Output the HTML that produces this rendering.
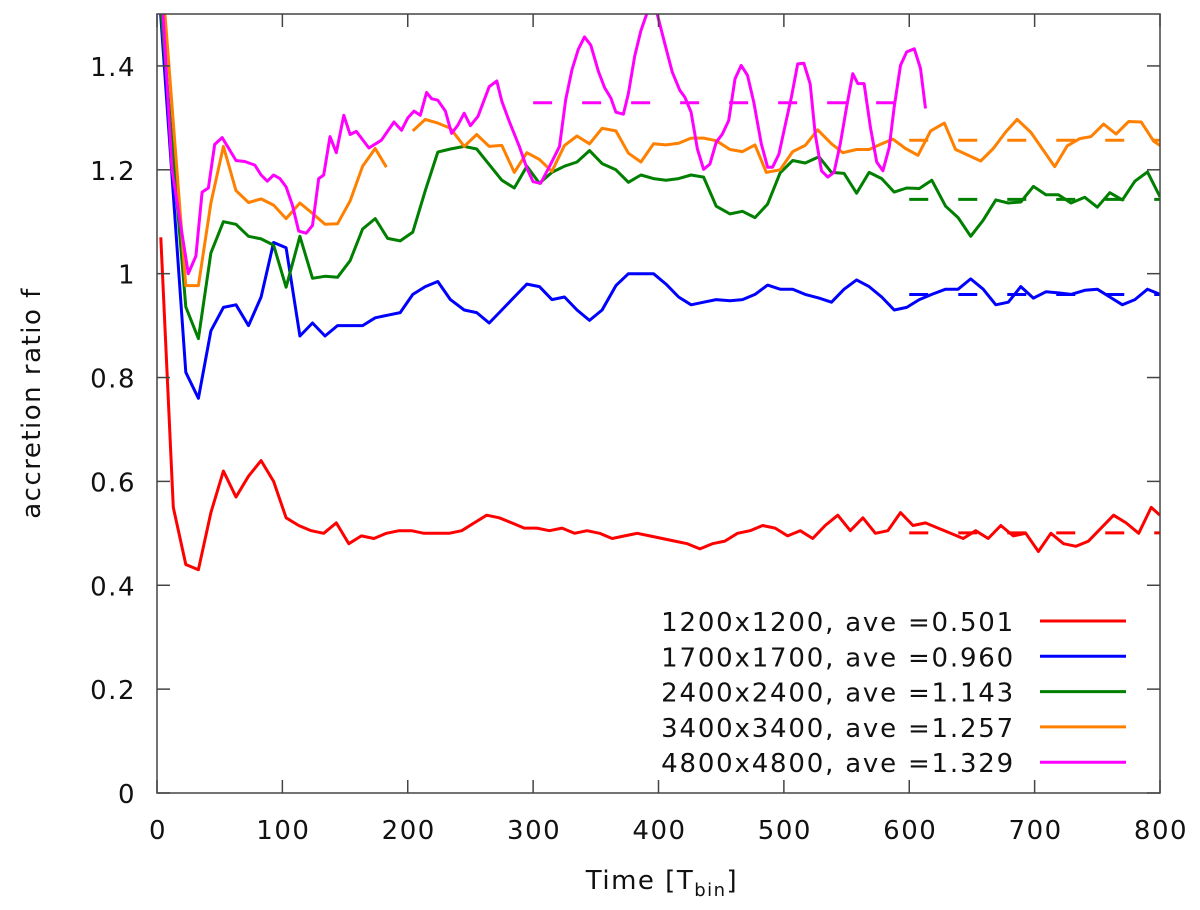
<!DOCTYPE html>
<html><head><meta charset="utf-8"><style>
html,body{margin:0;padding:0;background:#fff}
svg{display:block;font-family:"DejaVu Sans","Liberation Sans",sans-serif}
</style></head><body>
<svg id="chart" width="1200" height="910" viewBox="0 0 1200 910" xmlns="http://www.w3.org/2000/svg">
<defs><clipPath id="clip"><rect x="158" y="14" width="1002" height="778"/></clipPath></defs>
<g id="plot" clip-path="url(#clip)"></g>
<g id="axes"></g>
<g id="legend"></g>
</svg>
<script>
const xTicks=[0,100,200,300,400,500,600,700,800];
const yTicks=[0,0.2,0.4,0.6,0.8,1,1.2,1.4];
const yTickLabels=["0","0.2","0.4","0.6","0.8","1","1.2","1.4"];
const seriesNames=["1200x1200, ave =0.501","1700x1700, ave =0.960","2400x2400, ave =1.143","3400x3400, ave =1.257","4800x4800, ave =1.329"];
const seriesColors=["#ff0000","#0000ff","#007f00","#ff8000","#ff00ff"];
const averages=[0.501,0.960,1.143,1.257,1.329];
const avgStart=[600,600,600,600,300];
const avgEnd=[800,800,800,800,600];
const redT=[3,13,23,33,43,53,63,73,83,93,103,113,123,133,143,153,163,173,183,193,203,213,223,233,243,253,263,273,283,293,303,313,323,333,343,353,363,373,383,393,403,413,423,433,443,453,463,473,483,493,503,513,523,533,543,553,563,573,583,593,603,613,623,633,643,653,663,673,683,693,703,713,723,733,743,753,763,773,783,793,800];
const redV=[1.07,0.55,0.44,0.43,0.54,0.62,0.57,0.61,0.64,0.60,0.53,0.515,0.505,0.50,0.52,0.48,0.495,0.49,0.50,0.505,0.505,0.50,0.50,0.50,0.505,0.52,0.535,0.53,0.52,0.51,0.51,0.505,0.51,0.50,0.505,0.50,0.49,0.495,0.50,0.495,0.49,0.485,0.48,0.47,0.48,0.485,0.50,0.505,0.515,0.51,0.495,0.505,0.49,0.515,0.535,0.505,0.53,0.50,0.505,0.54,0.515,0.52,0.51,0.50,0.49,0.505,0.49,0.515,0.495,0.50,0.465,0.50,0.48,0.475,0.485,0.51,0.535,0.52,0.50,0.55,0.535];
const blueT=[0,23,33,43,53,63,73,83,93,103,114,124,134,144,154,164,174,184,194,204,214,224,234,245,255,265,275,285,295,305,315,325,335,345,355,366,376,396,406,416,426,436,446,457,467,477,487,497,507,517,528,538,548,558,568,578,588,598,608,618,629,639,649,659,669,679,689,699,709,719,729,740,750,760,770,780,790,800];
const blueV=[1.6,0.81,0.76,0.89,0.935,0.94,0.90,0.955,1.06,1.05,0.88,0.905,0.88,0.90,0.90,0.90,0.915,0.92,0.925,0.96,0.975,0.985,0.95,0.93,0.925,0.905,0.93,0.955,0.98,0.975,0.95,0.955,0.93,0.91,0.93,0.977,1.0,1.0,0.98,0.955,0.94,0.945,0.95,0.948,0.95,0.96,0.978,0.97,0.97,0.96,0.953,0.945,0.97,0.988,0.975,0.955,0.93,0.935,0.95,0.96,0.97,0.97,0.99,0.97,0.94,0.945,0.975,0.953,0.965,0.963,0.96,0.968,0.97,0.955,0.94,0.95,0.97,0.96];
const greenT=[0,23,33,43,53,63,73,83,93,103,114,124,134,144,154,164,174,184,194,204,214,224,234,245,255,265,275,285,295,305,315,325,335,345,355,366,376,386,396,406,416,426,436,446,457,467,477,487,497,507,517,528,538,548,558,568,578,588,598,608,618,629,639,649,659,669,679,689,699,709,719,729,740,750,760,770,780,790,800];
const greenV=[1.6,0.936,0.875,1.04,1.10,1.095,1.072,1.067,1.055,0.974,1.072,0.991,0.995,0.993,1.025,1.086,1.106,1.068,1.063,1.08,1.16,1.234,1.24,1.245,1.24,1.21,1.18,1.165,1.207,1.174,1.195,1.207,1.215,1.237,1.212,1.20,1.176,1.19,1.183,1.18,1.183,1.19,1.186,1.13,1.115,1.12,1.108,1.134,1.194,1.218,1.213,1.225,1.195,1.193,1.155,1.195,1.183,1.157,1.165,1.164,1.18,1.13,1.108,1.072,1.103,1.142,1.136,1.138,1.168,1.152,1.152,1.136,1.147,1.128,1.156,1.142,1.178,1.196,1.148];
const orangeT=[0,23,33,43,53,63,73,83,93,103,114,124,134,144,154,164,174,183,null,204,214,224,234,245,255,265,275,285,295,305,315,325,335,345,355,366,376,386,396,406,416,426,436,446,457,467,477,486,497,507,517,527,538,547,558,568,578,587,597,607,617,628,637,647,657,667,677,686,697,706,716,726,736,745,755,765,775,785,795,800];
const orangeV=[1.7,0.977,0.977,1.136,1.245,1.16,1.137,1.144,1.132,1.106,1.136,1.116,1.095,1.096,1.14,1.207,1.241,1.205,null,1.275,1.297,1.29,1.28,1.245,1.268,1.245,1.247,1.195,1.233,1.22,1.197,1.247,1.265,1.25,1.28,1.275,1.232,1.215,1.25,1.248,1.251,1.261,1.261,1.256,1.239,1.235,1.248,1.195,1.20,1.235,1.247,1.277,1.25,1.233,1.239,1.239,1.25,1.259,1.241,1.228,1.275,1.29,1.239,1.228,1.217,1.241,1.273,1.297,1.272,1.241,1.206,1.246,1.26,1.264,1.288,1.269,1.293,1.292,1.255,1.247];
const magentaT=[0,12,25,31,36,41,46,52,63,70,78,83,88,93,98,103,108,113,119,124,129,133,138,143,149,154,159,169,179,189,195,200,205,210,215,219,224,230,235,240,245,250,256,265,271,275,281,289,295,300,306,313,321,326,331,336,341,346,352,357,362,366,372,376,381,386,392,399,405,411,417,421,426,431,436,441,446,451,456,461,466,471,476,482,487,491,496,501,506,511,516,521,525,530,535,540,545,550,555,559,564,569,574,579,584,588,593,598,604,609,613];
const magentaV=[1.7,1.2,1.0,1.034,1.157,1.165,1.249,1.262,1.218,1.216,1.209,1.19,1.178,1.19,1.183,1.167,1.132,1.082,1.078,1.093,1.183,1.19,1.264,1.233,1.305,1.268,1.274,1.242,1.257,1.292,1.276,1.30,1.313,1.305,1.349,1.337,1.334,1.313,1.27,1.286,1.309,1.285,1.303,1.36,1.371,1.332,1.293,1.245,1.203,1.177,1.174,1.206,1.245,1.335,1.393,1.432,1.456,1.44,1.39,1.358,1.338,1.311,1.307,1.347,1.419,1.468,1.51,1.50,1.443,1.388,1.353,1.34,1.311,1.24,1.201,1.211,1.253,1.269,1.295,1.375,1.401,1.382,1.33,1.25,1.205,1.205,1.23,1.285,1.34,1.404,1.405,1.365,1.269,1.198,1.186,1.195,1.25,1.321,1.385,1.366,1.366,1.282,1.215,1.198,1.243,1.321,1.401,1.427,1.433,1.395,1.318];
const allT=[redT,blueT,greenT,orangeT,magentaT];
const allV=[redV,blueV,greenV,orangeV,magentaV];

const NS="http://www.w3.org/2000/svg";
const X0=157,X1=1160,Y0=793,Y1=14;
const FS=26,LS=1.5;
function xs(t){return X0+(t-0)/(800-0)*(X1-X0);}
function ys(v){return Y0-(v-0)/(1.5-0)*(Y0-Y1);}
function mk(tag,attrs,parent){const e=document.createElementNS(NS,tag);for(const k in attrs)e.setAttribute(k,attrs[k]);parent.appendChild(e);return e;}
const plot=document.getElementById('plot'),axes=document.getElementById('axes'),legend=document.getElementById('legend');

for(let s=0;s<5;s++){
  const T=allT[s],V=allV[s];let d="",pen=false;
  for(let i=0;i<T.length;i++){
    if(T[i]===null){pen=false;continue;}
    d+=(pen?"L":"M")+xs(T[i]).toFixed(1)+","+ys(V[i]).toFixed(1);pen=true;
  }
  const p=mk('path',{d:d,fill:'none',stroke:seriesColors[s],'stroke-width':3,'stroke-linejoin':'round'},plot);
  
  
  const a=mk('line',{x1:xs(avgStart[s]),x2:xs(avgEnd[s]),y1:ys(averages[s]),y2:ys(averages[s]),stroke:seriesColors[s],'stroke-width':3,'stroke-dasharray':'19 30'},plot);
  
  
}
const fr=mk('rect',{x:X0,y:Y1,width:X1-X0,height:Y0-Y1,fill:'none',stroke:'#444','stroke-width':1.5},axes);


xTicks.forEach(t=>{
  const x=xs(t);
  mk('line',{x1:x,x2:x,y1:Y0,y2:Y0-13,stroke:'#444','stroke-width':1.5},axes);
  mk('line',{x1:x,x2:x,y1:Y1,y2:Y1+13,stroke:'#444','stroke-width':1.5},axes);
  const tx=mk('text',{x:x+1,y:839,'text-anchor':'middle','font-size':FS,'letter-spacing':LS,fill:'#111'},axes);
  tx.textContent=t;
  
  
});
yTicks.forEach((v,i)=>{
  const y=ys(v);
  mk('line',{x1:X0,x2:X0+13,y1:y,y2:y,stroke:'#444','stroke-width':1.5},axes);
  mk('line',{x1:X1,x2:X1-13,y1:y,y2:y,stroke:'#444','stroke-width':1.5},axes);
  const tx=mk('text',{x:136,y:y+10,'text-anchor':'end','font-size':FS,'letter-spacing':LS,fill:'#111'},axes);
  tx.textContent=yTickLabels[i];
  
  
});
const xt=mk('text',{x:662,y:889,'text-anchor':'middle','font-size':FS,'letter-spacing':LS,fill:'#111'},axes);
xt.innerHTML='Time [T<tspan font-size="18" dy="7">bin</tspan><tspan dy="-7">]</tspan>';


const yt=mk('text',{x:0,y:0,'text-anchor':'middle','font-size':FS,'letter-spacing':LS,fill:'#111',transform:'translate(40,403) rotate(-90)'},axes);
yt.textContent='accretion ratio f';


seriesNames.forEach((n,i)=>{
  const y=621+i*35.3;
  const g=mk('g',{},legend);
  
  
  const t=mk('text',{x:1015,y:y+10,'text-anchor':'end','font-size':FS,'letter-spacing':1.8,fill:'#111'},g);
  t.textContent=n;
  mk('line',{x1:1040,x2:1126,y1:y,y2:y,stroke:seriesColors[i],'stroke-width':3},g);
});
</script>
</body></html>
